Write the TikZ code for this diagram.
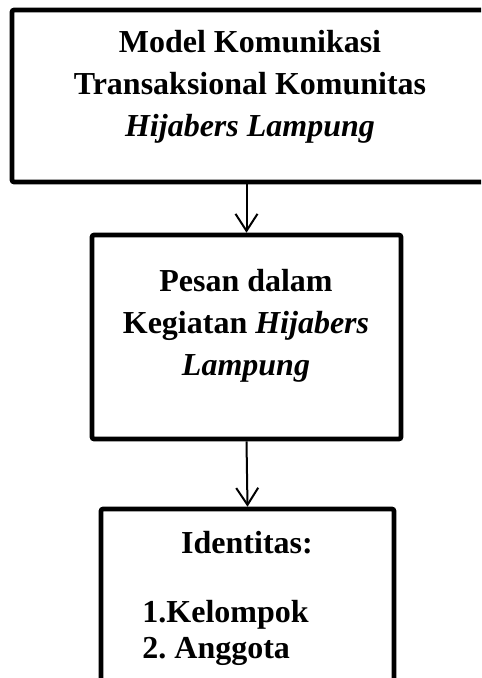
\documentclass[tikz,border=0pt]{standalone}
\usepackage{fontspec}
\setmainfont{Liberation Serif}
\usetikzlibrary{positioning,arrows.meta}
\frenchspacing
\tikzset{
  box/.style={draw, line width=2.3pt, rounded corners=1pt, inner sep=0pt},
  boxtext/.style={font=\bfseries\fontsize{16}{21}\selectfont, align=center, inner sep=0pt},
  link/.style={line width=1pt, -{Straight Barb[length=8.5pt,width=11pt,line width=1pt]}}
}
\begin{document}
\begin{tikzpicture}[x=0.5pt,y=-0.5pt]
    \useasboundingbox (0,0) rectangle (481,678);
    \clip (0,0) rectangle (481,678);
    % boxes
    \node[box, minimum width=244pt, minimum height=86pt] (model) at (256,96) {};
    \node[box, minimum width=154.5pt, minimum height=102pt] (pesan) at (246.5,337) {};
    \node[box, minimum width=146.5pt, minimum height=105.5pt] (identitas) at (247.5,614.5) {};
    % texts
    \node[boxtext] (modeltext) at (250,87) {Model Komunikasi\\Transaksional Komunitas\\\textit{Hijabers Lampung}};
    \node[boxtext] (pesantext) at (246,325.5) {Pesan dalam\\Kegiatan \textit{Hijabers}\\\textit{Lampung}};
    \node[boxtext, anchor=base] (identitastext) at (247,553) {Identitas:};
    \node[boxtext, align=left, anchor=north west, font=\bfseries\fontsize{16}{18}\selectfont] (itemtext) at (142,600) {1.Kelompok\\2. Anggota};
    % arrows
    \draw[link] (pesan.north |- model.south) -- (pesan.north);
    \draw[link] (pesan.south) -- (identitas.north);
\end{tikzpicture}
\end{document}
